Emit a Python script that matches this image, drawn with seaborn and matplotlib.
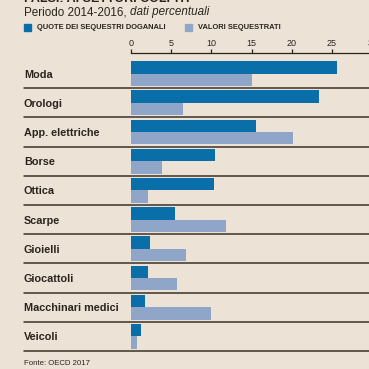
import matplotlib
matplotlib.use("Agg")
import matplotlib.pyplot as plt
import matplotlib.transforms as mtransforms
from matplotlib.lines import Line2D
from matplotlib.patches import Rectangle
import seaborn as sns
import pandas as pd

categories = ["Moda", "Orologi", "App. elettriche", "Borse", "Ottica", "Scarpe",
              "Gioielli", "Giocattoli", "Macchinari medici", "Veicoli"]
quote_sequestri = [25.6, 23.4, 15.6, 10.5, 10.3, 5.5, 2.4, 2.1, 1.7, 1.2]
valori_sequestrati = [15.1, 6.5, 20.1, 3.9, 2.1, 11.8, 6.8, 5.7, 10.0, 0.8]
series_names = ["QUOTE DEI SEQUESTRI DOGANALI", "VALORI SEQUESTRATI"]
xticks = [0, 5, 10, 15, 20, 25, 30]

title = "FALSI: AI SETTORI COLPITI"
subtitle_a = "Periodo 2014-2016, "
subtitle_b = "dati percentuali"
source = "Fonte: OECD 2017"

dark = "#0a6ea8"
light = "#8fa6c9"
bg = "#ece2d6"
ink = "#2b241e"

df = pd.DataFrame({
    "cat": categories * 2,
    "val": quote_sequestri + valori_sequestrati,
    "serie": [series_names[0]] * len(categories) + [series_names[1]] * len(categories),
})

sns.set_theme(style="white")
plt.rcParams["font.family"] = ["Liberation Sans", "DejaVu Sans"]

W = H = 369
fig = plt.figure(figsize=(3.69, 3.69), dpi=100, facecolor=bg)

px_per_unit = 8.04
left_px, top_px, bottom_px = 131, 59, 351
right_px = left_px + 30 * px_per_unit
ax = fig.add_axes([left_px / W, 1 - bottom_px / H, (right_px - left_px) / W,
                   (bottom_px - top_px) / H])
ax.set_facecolor(bg)

sns.barplot(data=df, y="cat", x="val", hue="serie", orient="h",
            palette=[dark, light], width=0.85, saturation=1, ax=ax,
            legend=False, linewidth=0)

ax.set_xlim(0, 30)
ax.set_ylim(len(categories) - 0.5, -0.5)
ax.set_xlabel("")
ax.set_ylabel("")

# top axis
ax.xaxis.set_ticks_position("top")
ax.xaxis.set_label_position("top")
ax.set_xticks(xticks)
ax.set_xticklabels([str(t) for t in xticks])
ax.tick_params(axis="x", direction="out", length=3, width=0.9, color=ink,
               labelsize=6.5, labelcolor=ink, pad=0.5)
for s in ["left", "right", "bottom"]:
    ax.spines[s].set_visible(False)
ax.spines["top"].set_position(("outward", 4.5))
ax.spines["top"].set_color(ink)
ax.spines["top"].set_linewidth(0.9)

# category labels
ax.tick_params(axis="y", length=0, pad=(left_px - 24) * 72 / 100, labelsize=7.8,
               labelcolor=ink)
for lab in ax.get_yticklabels():
    lab.set_ha("left")
    lab.set_fontweight("bold")

# separator lines
trans = mtransforms.blended_transform_factory(fig.transFigure, ax.transData)
for i in range(len(categories)):
    ax.add_line(Line2D([24 / W, 1.0], [i + 0.5, i + 0.5], transform=trans,
                       color="#3b3128", lw=1.1, clip_on=False))

# title (clipped at top), subtitle
fig.text(24 / W, 1 - 5 / H, title, ha="left", va="bottom", fontsize=9,
         fontweight="bold", color=ink)
t1 = fig.text(24 / W, 1 - 12.5 / H, subtitle_a, ha="left", va="center",
              fontsize=8.4, color=ink)
fig.canvas.draw()
bb = t1.get_window_extent()
fig.text(bb.x1 / W, 1 - 12.5 / H, subtitle_b, ha="left", va="center",
         fontsize=8.4, color=ink, style="italic")

# legend
ly = 1 - 27.5 / H
fig.add_artist(Rectangle((24 / W, ly - 3.5 / H), 7 / W, 7 / H,
                         transform=fig.transFigure, color=dark))
fig.text(37 / W, ly, series_names[0], ha="left", va="center", fontsize=5.4,
         fontweight="bold", color=ink)
fig.add_artist(Rectangle((185 / W, ly - 3.5 / H), 7 / W, 7 / H,
                         transform=fig.transFigure, color=light))
fig.text(198 / W, ly, series_names[1], ha="left", va="center", fontsize=5.4,
         fontweight="bold", color=ink)

# source
fig.text(24 / W, 1 - 363.5 / H, source, ha="left", va="center", fontsize=5.6,
         color=ink)

fig.savefig("out.png", dpi=100, facecolor=bg)
